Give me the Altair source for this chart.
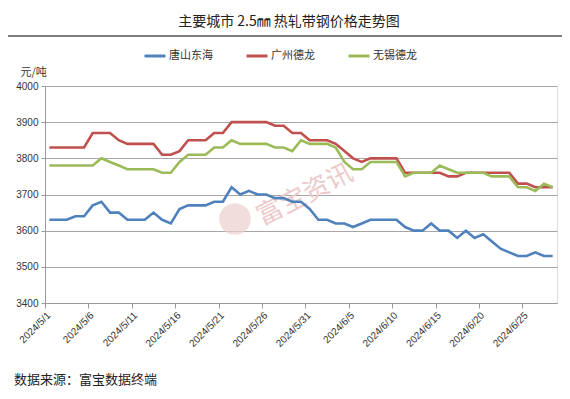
import altair as alt
import pandas as pd

series_names = ["唐山东海", "广州德龙", "无锡德龙"]
series_colors = ["#4F81BD", "#C0504D", "#9BBB59"]

dates = pd.date_range("2024-05-01", "2024-06-28", freq="D")

tangshan = [3630, 3630, 3630, 3640, 3640, 3670, 3680, 3650, 3650, 3630, 3630, 3630, 3650, 3630, 3620,
            3660, 3670, 3670, 3670, 3680, 3680, 3720, 3700, 3710, 3700, 3700, 3690, 3690, 3680, 3680,
            3660, 3630, 3630, 3620, 3620, 3610, 3620, 3630, 3630, 3630, 3630, 3610, 3600, 3600, 3620,
            3600, 3600, 3580, 3600, 3580, 3590, 3570, 3550, 3540, 3530, 3530, 3540, 3530, 3530]
guangzhou = [3830, 3830, 3830, 3830, 3830, 3870, 3870, 3870, 3850, 3840, 3840, 3840, 3840, 3810, 3810,
             3820, 3850, 3850, 3850, 3870, 3870, 3900, 3900, 3900, 3900, 3900, 3890, 3890, 3870, 3870,
             3850, 3850, 3850, 3840, 3820, 3800, 3790, 3800, 3800, 3800, 3800, 3760, 3760, 3760, 3760,
             3760, 3750, 3750, 3760, 3760, 3760, 3760, 3760, 3760, 3730, 3730, 3720, 3720, 3720]
wuxi = [3780, 3780, 3780, 3780, 3780, 3780, 3800, 3790, 3780, 3770, 3770, 3770, 3770, 3760, 3760,
        3790, 3810, 3810, 3810, 3830, 3830, 3850, 3840, 3840, 3840, 3840, 3830, 3830, 3820, 3850,
        3840, 3840, 3840, 3830, 3790, 3770, 3770, 3790, 3790, 3790, 3790, 3750, 3760, 3760, 3760,
        3780, 3770, 3760, 3760, 3760, 3760, 3750, 3750, 3750, 3720, 3720, 3710, 3730, 3720]

tick_days = [(5, 1), (5, 6), (5, 11), (5, 16), (5, 21), (5, 26), (5, 31),
             (6, 5), (6, 10), (6, 15), (6, 20), (6, 25)]
y_ticks = [3400, 3500, 3600, 3700, 3800, 3900, 4000]

title_text = "主要城市 2.5㎜ 热轧带钢价格走势图"
footer_text = "数据来源：富宝数据终端"
unit_text = "元/吨"
watermark_text = "富宝资讯"

date_str = [d.strftime("%Y-%m-%dT12:00:00Z") for d in dates]
rows = []
for name, vals in zip(series_names, [tangshan, guangzhou, wuxi]):
    for d, v in zip(date_str, vals):
        rows.append({"date": d, "series": name, "value": v})
df = pd.DataFrame(rows)

cjk = "Noto Sans CJK SC"
lat = "Liberation Sans"

x_enc = alt.X(
    "date:T",
    scale=alt.Scale(type="utc", domain=[alt.DateTime(year=2024, month=5, date=1, utc=True),
                                        alt.DateTime(year=2024, month=6, date=29, utc=True)]),
    axis=alt.Axis(
        values=[alt.DateTime(year=2024, month=m, date=d, utc=True) for m, d in tick_days],
        labelExpr="utcFormat(datum.value, '%Y/%-m/%-d')", labelAngle=-45, labelFontSize=10,
        labelAlign="right", labelBaseline="top",
        labelFont=lat, labelColor="#333333", labelPadding=2, tickSize=5,
        tickColor="#999999", domainColor="#999999", grid=False, title=None,
    ),
)
y_enc = alt.Y(
    "value:Q",
    scale=alt.Scale(domain=[3400, 4000], nice=False, zero=False),
    axis=alt.Axis(
        values=y_ticks, format="d", labelFontSize=10, labelFont=lat, labelColor="#333333",
        labelPadding=3, tickSize=4, tickColor="#999999", domainColor="#999999",
        grid=True, gridColor="#a6a6a6", gridWidth=1,
        title=unit_text, titleAngle=0, titleX=-25, titleY=-14, titleAlign="left",
        titleBaseline="middle", titleFont=cjk, titleFontSize=11, titleFontWeight="normal",
        titleColor="#333333",
    ),
)

lines = alt.Chart(df).mark_line(strokeWidth=2.6).encode(
    x=x_enc,
    y=y_enc,
    color=alt.Color(
        "series:N",
        scale=alt.Scale(domain=series_names, range=series_colors),
        legend=alt.Legend(
            orient="none", legendX=98, legendY=-42, direction="horizontal", title=None,
            symbolType="stroke", symbolStrokeWidth=3, symbolSize=441, labelFont=cjk,
            labelFontSize=11, labelColor="#333333", columnPadding=27, labelOffset=2,
        ),
        sort=series_names,
    ),
)

def text_layer(txt, x, y, size, color="#222222", align="center", angle=0, font=cjk):
    kw = dict(fontSize=size, font=font, color=color, align=align, baseline="middle")
    if angle:
        kw["angle"] = angle
    return alt.Chart(pd.DataFrame({"t": [txt]})).mark_text(**kw).encode(
        text="t:N", x=alt.value(x), y=alt.value(y))

title = text_layer(title_text, 244, -64, 14)
footer = text_layer(footer_text, -31, 294, 13, align="left")
wm_text = text_layer(watermark_text, 260, 109, 26, color="#eccaca", angle=333)
wm_circle = alt.Chart(pd.DataFrame({"t": [watermark_text]})).mark_circle(
    size=1000, color="#edcfcf", opacity=0.7).encode(x=alt.value(190), y=alt.value(133))
title_rule = alt.Chart(pd.DataFrame({"t": [title_text]})).mark_rule(
    color="#000000", strokeWidth=1.2).encode(x=alt.value(-40), x2=alt.value(530), y=alt.value(-50))

chart = alt.layer(wm_circle, wm_text, lines, title, title_rule, footer).properties(
    width=512, height=217,
    padding={"left": 37, "top": 78, "right": 5, "bottom": 88},
    autosize=alt.AutoSizeParams(type="none"),
).configure_view(stroke=None).configure(background="white")

chart.save("out.html", embed_options={"renderer": "svg", "actions": False})
